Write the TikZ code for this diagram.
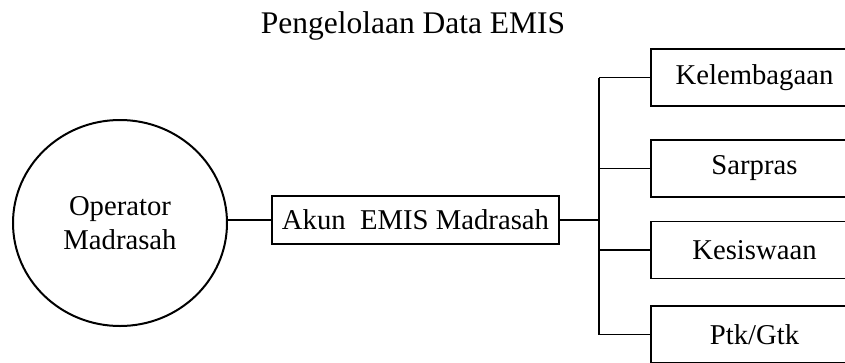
\documentclass[tikz,border=0pt]{standalone}
\usepackage{fontspec}
\setmainfont{Liberation Serif}
\usetikzlibrary{shapes.geometric}
\begin{document}
\begin{tikzpicture}[x=1pt,y=-1pt,
  box/.style={draw,line width=1.2pt,rectangle,minimum width=207pt,minimum height=57pt,inner sep=0pt,font=\fontsize{28.7}{34}\selectfont},
  link/.style={line width=1.2pt}]
\useasboundingbox (0,0) rectangle (845,362);
\clip (0,0) rectangle (845,362);
\node[font=\fontsize{31.5}{36}\selectfont,anchor=base] (title) at (413,33) {Pengelolaan Data EMIS};
\node[draw,ellipse,line width=2pt,minimum width=214pt,minimum height=206pt,inner sep=0pt,align=center,
  font=\fontsize{28.7}{34}\selectfont] (op) at (120,223) {Operator\\Madrasah};
\node[draw,line width=1.2pt,minimum width=287pt,minimum height=48pt,inner sep=0pt,
  font=\fontsize{28.7}{34}\selectfont] (akun) at (415.5,220) {Akun\ \ EMIS Madrasah};
\node[box] (kel) at (754.5,77.5) {Kelembagaan};
\node[box] (sar) at (754.5,168.5) {Sarpras};
\node[box] (kes) at (754.5,250) {Kesiswaan};
\node[box] (ptk) at (754.5,334.5) {Ptk/Gtk};
\coordinate (bj) at (599,220);
\coordinate (btop) at (599,77.5);
\coordinate (bbot) at (599,334.5);
\draw[link] (op.east |- akun.west) -- (akun.west);
\draw[link] (akun.east) -- (bj);
\draw[link] (btop) -- (bbot);
\draw[link] (btop) -- (kel.west);
\draw[link] (bj |- sar.west) -- (sar.west);
\draw[link] (bj |- kes.west) -- (kes.west);
\draw[link] (bbot) -- (ptk.west);
\end{tikzpicture}
\end{document}
